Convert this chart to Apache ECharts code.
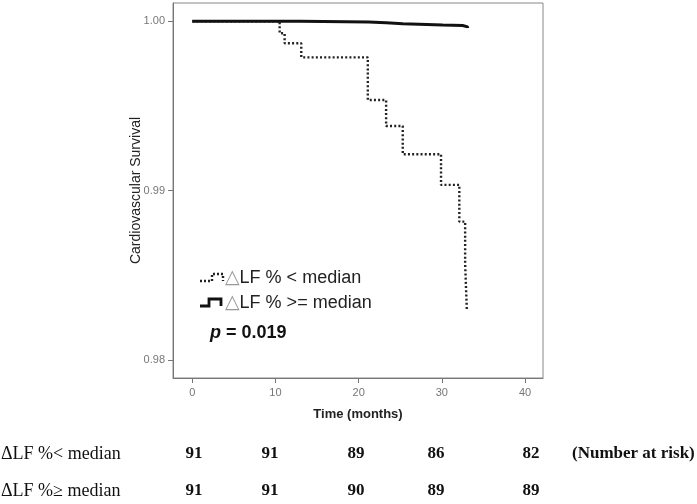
<!DOCTYPE html>
<html>
<head>
<meta charset="utf-8">
<script src="https://cdn.jsdelivr.net/npm/echarts@6/dist/echarts.min.js"></script>
<style>
html,body{margin:0;padding:0;background:#fff;}
#chart{width:697px;height:504px;}
</style>
</head>
<body>
<div id="chart"></div>
<script>
// ---- data ----
var timeLow  = [0, 10.5, 11.1, 13.1, 21.1, 23.3, 25.3, 29.9, 32.1, 32.8, 33.0];
var survLow  = [1.0, 0.99929, 0.99870, 0.99787, 0.99535, 0.99382, 0.99215, 0.99034, 0.98817, 0.98571, 0.98300];
var timeHigh = [0, 13.0, 21.2, 23.3, 25.3, 30.1, 32.5, 33.1];
var survHigh = [1.0, 0.99996, 0.99991, 0.99985, 0.99978, 0.99975, 0.99967, 0.99960];
var xTicks = [0, 10, 20, 30, 40];
var yTicks = [0.98, 0.99, 1.00];
var legendLabels = ['LF % < median', 'LF % >= median'];
var pValue = '0.019';
var riskRowLabels = ['\u0394LF %< median', '\u0394LF %\u2265 median'];
var riskLow  = [91, 91, 89, 86, 82];
var riskHigh = [91, 91, 90, 89, 89];
var riskNote = '(Number at risk)';

function pairs(t, s){ return t.map(function(v,i){ return [v, s[i]]; }); }

var chart = echarts.init(document.getElementById('chart'), null, {renderer:'canvas'});

var sans = '"Liberation Sans", Arial, sans-serif';
var serif = '"Liberation Serif", "Times New Roman", serif';

// risk table graphics
var riskCols = [194, 270, 356, 436, 531];
var rowY = [454, 491];
var graphics = [];
[riskLow, riskHigh].forEach(function(arr, r){
  graphics.push({type:'text', x: 1, y: rowY[r],
    style:{text: riskRowLabels[r], font: '18px ' + serif, fill:'#111', verticalAlign:'middle'}});
  arr.forEach(function(v, i){
    graphics.push({type:'text', x: riskCols[i], y: rowY[r],
      style:{text: String(v), font: 'bold 17px ' + serif, fill:'#111', align:'center', verticalAlign:'middle'}});
  });
});
graphics.push({type:'text', x: 572, y: rowY[0],
  style:{text: riskNote, font:'bold 17px ' + serif, fill:'#111', verticalAlign:'middle'}});

// legend (inside plot)
graphics.push({type:'polyline', shape:{points:[[200,281],[212,281],[212,274],[223,274],[223,281]]},
  style:{stroke:'#222', lineWidth:2.4, lineDash:[2,2], fill:null}});
graphics.push({type:'polyline', shape:{points:[[200,306],[209,306],[209,299],[221,299],[221,306]]},
  style:{stroke:'#111', lineWidth:2.8, fill:null}});
[278, 303].forEach(function(y, i){
  graphics.push({type:'text', x: 225, y: y,
    style:{text: '{t|\u25B3}' + legendLabels[i], font: '18px ' + sans, fill:'#222', verticalAlign:'middle',
      rich:{t:{font:'19px "DejaVu Sans", sans-serif', fill:'#999'}}}});
});
graphics.push({type:'text', x: 210, y: 333,
  style:{text: '{p|p} = ' + pValue, font: 'bold 18px ' + sans, fill:'#111', verticalAlign:'middle',
    rich:{p:{font:'italic bold 18px ' + sans, fill:'#111'}}}});

var option = {
  animation: false,
  backgroundColor: '#fff',
  grid: {left: 173, top: 3, width: 370, height: 375, show: true, borderColor: '#888', borderWidth: 1, containLabel: false},
  xAxis: {
    type: 'value', min: -2.32, max: 42.16,
    name: 'Time (months)', nameLocation: 'middle', nameGap: 30, nameMoveOverlap: false,
    nameTextStyle: {fontFamily: sans, fontSize: 13, fontWeight: 'bold', color: '#222'},
    axisLine: {show: true, onZero: false, lineStyle: {color: '#777', width: 1}},
    axisTick: {show: true, length: 5, lineStyle: {color: '#777'}, customValues: xTicks},
    axisLabel: {customValues: xTicks, fontFamily: sans, fontSize: 11, color: '#777', margin: 9},
    splitLine: {show: false}
  },
  yAxis: {
    type: 'value', min: 0.97894, max: 1.00108,
    name: 'Cardiovascular Survival', nameLocation: 'middle', nameGap: 30, nameRotate: 90, nameMoveOverlap: false,
    nameTextStyle: {fontFamily: sans, fontSize: 14, color: '#222'},
    axisLine: {show: true, onZero: false, lineStyle: {color: '#777', width: 1}},
    axisTick: {show: true, length: 5, lineStyle: {color: '#777'}, customValues: yTicks},
    axisLabel: {customValues: yTicks, fontFamily: sans, fontSize: 11, color: '#777', margin: 8,
      formatter: function(v){ return v.toFixed(2); }},
    splitLine: {show: false}
  },
  series: [
    {type: 'line', name: 'low', step: 'end', showSymbol: false, symbol: 'none',
     data: pairs(timeLow, survLow),
     lineStyle: {color: '#222', width: 2.4, type: [2, 2.2], cap: 'butt'}},
    {type: 'line', name: 'high', step: 'end', showSymbol: false, symbol: 'none',
     data: pairs(timeHigh, survHigh),
     lineStyle: {color: '#111', width: 3}}
  ],
  graphic: graphics
};
chart.setOption(option);
</script>
</body>
</html>
